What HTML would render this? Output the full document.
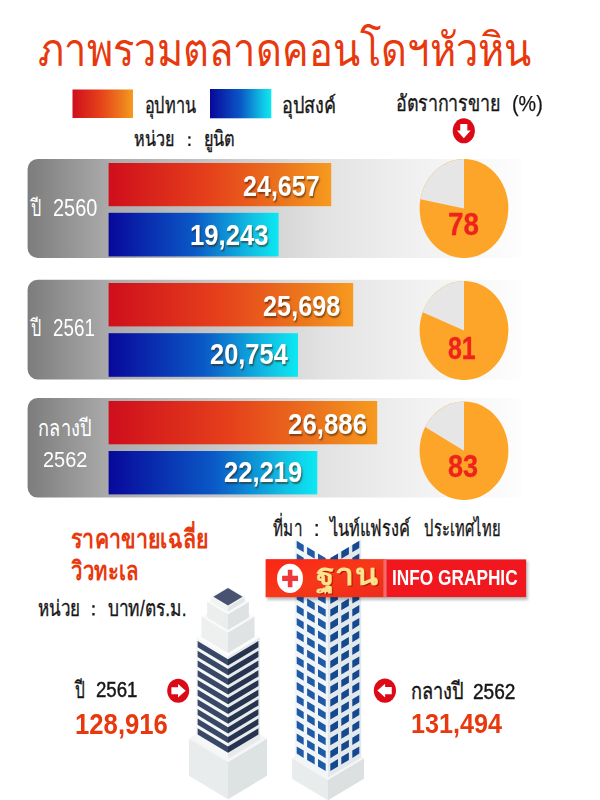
<!DOCTYPE html>
<html lang="th"><head><meta charset="utf-8"><title>ภาพรวมตลาดคอนโดฯหัวหิน</title>
<style>
html,body{margin:0;padding:0;background:#fff}
#p{position:relative;width:600px;height:800px;overflow:hidden;background:#fff;font-family:"Liberation Sans",sans-serif}
#p svg{position:absolute;left:0;top:0}
#p svg text{font-family:"Liberation Sans",sans-serif}
.t{position:absolute;line-height:1;white-space:nowrap;transform-origin:0 0}
</style></head><body><div id="p">
<svg width="600" height="800" viewBox="0 0 600 800">
<filter id="blur" x="-10%" y="-30%" width="120%" height="160%"><feGaussianBlur stdDeviation="1.6"/></filter>
<defs>
<linearGradient id="gr" x1="0" x2="1" y1="0" y2="0"><stop offset="0" stop-color="#cf0e1c"/><stop offset="0.45" stop-color="#e5401b"/><stop offset="0.8" stop-color="#ec781d"/><stop offset="1" stop-color="#f79a1f"/></linearGradient>
<linearGradient id="gb" x1="0" x2="1" y1="0" y2="0"><stop offset="0" stop-color="#08089a"/><stop offset="0.5" stop-color="#0a58c6"/><stop offset="0.85" stop-color="#10c2e4"/><stop offset="1" stop-color="#0ce8f2"/></linearGradient>
<linearGradient id="gp" gradientUnits="userSpaceOnUse" x1="27" x2="521" y1="0" y2="0"><stop offset="0" stop-color="#7c7c7c"/><stop offset="0.165" stop-color="#aaaaaa"/><stop offset="0.61" stop-color="#e3e3e3"/><stop offset="0.75" stop-color="#eeeeee"/><stop offset="0.86" stop-color="#f5f5f5"/><stop offset="1" stop-color="#fdfdfd"/></linearGradient>
<linearGradient id="gban" x1="0" x2="1" y1="0" y2="1"><stop offset="0" stop-color="#fb2416"/><stop offset="0.5" stop-color="#f73818"/><stop offset="1" stop-color="#ee2a1a"/></linearGradient>
</defs>
<text x="38.3" y="65.5" font-size="46" fill="#e8380d" textLength="493" lengthAdjust="spacingAndGlyphs">ภาพรวมตลาดคอนโดฯหัวหิน</text>
<rect x="72.5" y="89.5" width="60.5" height="28.5" fill="url(#gr)"/>
<rect x="210" y="89" width="61.3" height="29.3" fill="url(#gb)"/>
<text x="144.7" y="112.8" font-size="22" fill="#151515" stroke="#151515" stroke-width="0.35" textLength="51" lengthAdjust="spacingAndGlyphs">อุปทาน</text>
<text x="282.2" y="112.8" font-size="22" fill="#151515" stroke="#151515" stroke-width="0.35" textLength="54" lengthAdjust="spacingAndGlyphs">อุปสงค์</text>
<text x="396.2" y="110.7" font-size="22" fill="#151515" stroke="#151515" stroke-width="0.35" textLength="104" lengthAdjust="spacingAndGlyphs">อัตราการขาย</text>
<text x="134.2" y="146" font-size="21" fill="#151515" stroke="#151515" stroke-width="0.35" textLength="40" lengthAdjust="spacingAndGlyphs">หน่วย</text>
<text x="204.2" y="146" font-size="21" fill="#151515" stroke="#151515" stroke-width="0.35" textLength="31" lengthAdjust="spacingAndGlyphs">ยูนิต</text>
<rect x="188.3" y="136.3" width="2.2" height="2.4" fill="#151515"/><rect x="188.3" y="143.6" width="2.2" height="2.4" fill="#151515"/>
<g transform="translate(463.8 130.8)"><ellipse rx="11.1" ry="12.5" fill="#dc0a16"/><g transform="rotate(90) scale(1.009)"><path d="M-6.8 -3.5H-0.2V-6.8L7.5 0L-0.2 6.8V3.5H-6.8Z" fill="#fff"/></g></g>
<path d="M37.6 159.0H521V258.0H37.6A10 10 0 0 1 27.6 248.0V169.0A10 10 0 0 1 37.6 159.0Z" fill="url(#gp)"/>
<rect x="108.6" y="163.0" width="222.6" height="43.2" fill="url(#gr)"/>
<rect x="108.6" y="212.8" width="170.0" height="43.6" fill="url(#gb)"/>
<path d="M37.6 279.8H521V379.4H37.6A10 10 0 0 1 27.6 369.4V289.8A10 10 0 0 1 37.6 279.8Z" fill="url(#gp)"/>
<rect x="108.6" y="283.0" width="244.6" height="43.4" fill="url(#gr)"/>
<rect x="108.6" y="333.2" width="189.4" height="43.6" fill="url(#gb)"/>
<path d="M37.6 398.0H521V497.6H37.6A10 10 0 0 1 27.6 487.6V408.0A10 10 0 0 1 37.6 398.0Z" fill="url(#gp)"/>
<rect x="108.6" y="401.0" width="268.6" height="43.3" fill="url(#gr)"/>
<rect x="108.6" y="451.0" width="208.7" height="43.4" fill="url(#gb)"/>
<ellipse cx="464.0" cy="208.5" rx="44.4" ry="49.5" fill="#fda529"/><path d="M464.0 208.5L464.0 159.0A44.4 49.5 0 0 0 420.4 199.2Z" fill="#e6e6e6"/>
<ellipse cx="464.0" cy="330.5" rx="44.4" ry="49.5" fill="#fda529"/><path d="M464.0 330.5L464.0 281.0A44.4 49.5 0 0 0 422.7 312.3Z" fill="#e6e6e6"/>
<ellipse cx="464.0" cy="450.8" rx="44.4" ry="49.2" fill="#fda529"/><path d="M464.0 450.8L464.0 401.6A44.4 49.2 0 0 0 425.1 427.1Z" fill="#e6e6e6"/>
<text x="31" y="216" font-size="23" fill="#fff" textLength="10.5" lengthAdjust="spacingAndGlyphs">ปี</text>
<text x="31" y="336" font-size="23" fill="#fff" textLength="10.5" lengthAdjust="spacingAndGlyphs">ปี</text>
<text x="38.4" y="436.4" font-size="23" fill="#fff" textLength="53" lengthAdjust="spacingAndGlyphs">กลางปี</text>
<text x="71" y="548" font-size="26" font-weight="bold" fill="#e8380d" textLength="137" lengthAdjust="spacingAndGlyphs">ราคาขายเฉลี่ย</text>
<text x="71" y="580.3" font-size="26" font-weight="bold" fill="#e8380d" textLength="67" lengthAdjust="spacingAndGlyphs">วิวทะเล</text>
<text x="37.8" y="615.5" font-size="22" fill="#151515" stroke="#151515" stroke-width="0.35" textLength="42.5" lengthAdjust="spacingAndGlyphs">หน่วย</text>
<text x="107.7" y="615.5" font-size="22" fill="#151515" stroke="#151515" stroke-width="0.35" textLength="79" lengthAdjust="spacingAndGlyphs">บาท/ตร.ม.</text>
<rect x="92.3" y="605.2" width="2.3" height="2.5" fill="#151515"/><rect x="92.3" y="613" width="2.3" height="2.5" fill="#151515"/>
<text x="272.8" y="536" font-size="22" fill="#151515" stroke="#151515" stroke-width="0.35" textLength="29" lengthAdjust="spacingAndGlyphs">ที่มา</text>
<rect x="315.5" y="524" width="2.3" height="2.5" fill="#151515"/><rect x="315.5" y="533.5" width="2.3" height="2.5" fill="#151515"/>
<text x="329.6" y="536" font-size="22" fill="#151515" stroke="#151515" stroke-width="0.35" textLength="81" lengthAdjust="spacingAndGlyphs">ไนท์แฟรงค์</text>
<text x="424.2" y="536" font-size="22" fill="#151515" stroke="#151515" stroke-width="0.35" textLength="76" lengthAdjust="spacingAndGlyphs">ประเทศไทย</text>
<polygon points="189.0,738.6 228.0,762.0 228.0,799.2 189.0,775.8" fill="#e8ecec"/><polygon points="267.0,738.6 228.0,762.0 228.0,799.2 267.0,775.8" fill="#dde2e2"/><polygon points="189.0,738.6 228.0,715.2 267.0,738.6 228.0,762.0" fill="#f4f6f6"/><polygon points="196.0,637.0 228.0,656.2 228.0,758.7 196.0,739.5" fill="#f6f8f8"/><polygon points="260.0,637.0 228.0,656.2 228.0,758.7 260.0,739.5" fill="#e6eaec"/><polygon points="196.0,637.0 228.0,617.8 260.0,637.0 228.0,656.2" fill="#fbfcfc"/><polygon points="197.6,641.1 228.0,659.3 228.0,665.5 197.6,647.3" fill="#3a4868"/><polygon points="258.4,641.1 228.0,659.3 228.0,665.5 258.4,647.3" fill="#27344f"/><polygon points="197.6,650.8 228.0,669.0 228.0,675.2 197.6,657.0" fill="#3a4868"/><polygon points="258.4,650.8 228.0,669.0 228.0,675.2 258.4,657.0" fill="#27344f"/><polygon points="197.6,660.5 228.0,678.7 228.0,684.9 197.6,666.7" fill="#3a4868"/><polygon points="258.4,660.5 228.0,678.7 228.0,684.9 258.4,666.7" fill="#27344f"/><polygon points="197.6,670.2 228.0,688.4 228.0,694.6 197.6,676.4" fill="#3a4868"/><polygon points="258.4,670.2 228.0,688.4 228.0,694.6 258.4,676.4" fill="#27344f"/><polygon points="197.6,679.9 228.0,698.1 228.0,704.3 197.6,686.1" fill="#3a4868"/><polygon points="258.4,679.9 228.0,698.1 228.0,704.3 258.4,686.1" fill="#27344f"/><polygon points="197.6,689.6 228.0,707.8 228.0,714.0 197.6,695.8" fill="#3a4868"/><polygon points="258.4,689.6 228.0,707.8 228.0,714.0 258.4,695.8" fill="#27344f"/><polygon points="197.6,699.2 228.0,717.5 228.0,723.7 197.6,705.4" fill="#3a4868"/><polygon points="258.4,699.2 228.0,717.5 228.0,723.7 258.4,705.4" fill="#27344f"/><polygon points="197.6,708.9 228.0,727.2 228.0,733.4 197.6,715.1" fill="#3a4868"/><polygon points="258.4,708.9 228.0,727.2 228.0,733.4 258.4,715.1" fill="#27344f"/><polygon points="197.6,718.6 228.0,736.9 228.0,743.1 197.6,724.8" fill="#3a4868"/><polygon points="258.4,718.6 228.0,736.9 228.0,743.1 258.4,724.8" fill="#27344f"/><polygon points="197.6,728.3 228.0,746.6 228.0,752.8 197.6,734.5" fill="#3a4868"/><polygon points="258.4,728.3 228.0,746.6 228.0,752.8 258.4,734.5" fill="#27344f"/><polygon points="201.5,616.5 228.0,632.4 228.0,652.9 201.5,637.0" fill="#eef0f0"/><polygon points="254.5,616.5 228.0,632.4 228.0,652.9 254.5,637.0" fill="#e0e3e3"/><polygon points="201.5,616.5 228.0,600.6 254.5,616.5 228.0,632.4" fill="#f8f9f9"/><polygon points="207.2,601.7 228.0,614.2 228.0,630.0 207.2,617.5" fill="#eceeee"/><polygon points="248.8,601.7 228.0,614.2 228.0,630.0 248.8,617.5" fill="#dfe2e2"/><polygon points="207.2,601.7 228.0,589.2 248.8,601.7 228.0,614.2" fill="#f8f9f9"/><polygon points="211.4,596.7 228.0,606.7 228.0,611.7 211.4,601.7" fill="#f2f4f4"/><polygon points="244.6,596.7 228.0,606.7 228.0,611.7 244.6,601.7" fill="#e3e6e6"/><polygon points="211.4,596.7 228.0,586.7 244.6,596.7 228.0,606.7" fill="#f4f6f6"/><polygon points="213.4,596.7 228.0,587.9 242.6,596.7 228.0,605.5" fill="#4a5272"/>
<polygon points="292.0,758.2 328.0,779.8 328.0,800.3 292.0,778.7" fill="#e9ecec"/><polygon points="364.0,758.2 328.0,779.8 328.0,800.3 364.0,778.7" fill="#dde0e0"/><polygon points="292.0,758.2 328.0,736.6 364.0,758.2 328.0,779.8" fill="#f4f6f6"/><polygon points="294.8,539.5 328.0,559.4 328.0,777.4 294.8,757.5" fill="#f1f5f7"/><polygon points="361.2,539.5 328.0,559.4 328.0,777.4 361.2,757.5" fill="#e2e9ed"/><polygon points="296.7,540.8 303.7,545.0 303.7,552.2 296.7,548.0" fill="#1f5aa6"/><polygon points="359.3,540.8 352.3,545.0 352.3,552.2 359.3,548.0" fill="#15488c"/><polygon points="307.1,547.0 314.7,551.5 314.7,558.8 307.1,554.3" fill="#1f5aa6"/><polygon points="348.9,547.0 341.3,551.5 341.3,558.8 348.9,554.3" fill="#15488c"/><polygon points="318.0,553.5 325.7,558.1 325.7,565.4 318.0,560.8" fill="#1f5aa6"/><polygon points="338.0,553.5 330.3,558.1 330.3,565.4 338.0,560.8" fill="#15488c"/><polygon points="296.7,553.6 303.7,557.8 303.7,565.1 296.7,560.9" fill="#1f5aa6"/><polygon points="359.3,553.6 352.3,557.8 352.3,565.1 359.3,560.9" fill="#15488c"/><polygon points="307.1,559.8 314.7,564.4 314.7,571.7 307.1,567.1" fill="#1f5aa6"/><polygon points="348.9,559.8 341.3,564.4 341.3,571.7 348.9,567.1" fill="#15488c"/><polygon points="318.0,566.4 325.7,571.0 325.7,578.3 318.0,573.7" fill="#1f5aa6"/><polygon points="338.0,566.4 330.3,571.0 330.3,578.3 338.0,573.7" fill="#15488c"/><polygon points="296.7,566.5 303.7,570.7 303.7,578.0 296.7,573.8" fill="#1f5aa6"/><polygon points="359.3,566.5 352.3,570.7 352.3,578.0 359.3,573.8" fill="#15488c"/><polygon points="307.1,572.7 314.7,577.2 314.7,584.5 307.1,580.0" fill="#1f5aa6"/><polygon points="348.9,572.7 341.3,577.2 341.3,584.5 348.9,580.0" fill="#15488c"/><polygon points="318.0,579.2 325.7,583.9 325.7,591.1 318.0,586.5" fill="#1f5aa6"/><polygon points="338.0,579.2 330.3,583.9 330.3,591.1 338.0,586.5" fill="#15488c"/><polygon points="296.7,579.3 303.7,583.5 303.7,590.8 296.7,586.6" fill="#1f5aa6"/><polygon points="359.3,579.3 352.3,583.5 352.3,590.8 359.3,586.6" fill="#15488c"/><polygon points="307.1,585.5 314.7,590.1 314.7,597.4 307.1,592.8" fill="#1f5aa6"/><polygon points="348.9,585.5 341.3,590.1 341.3,597.4 348.9,592.8" fill="#15488c"/><polygon points="318.0,592.1 325.7,596.7 325.7,604.0 318.0,599.4" fill="#1f5aa6"/><polygon points="338.0,592.1 330.3,596.7 330.3,604.0 338.0,599.4" fill="#15488c"/><polygon points="296.7,592.1 303.7,596.4 303.7,603.6 296.7,599.4" fill="#1f5aa6"/><polygon points="359.3,592.1 352.3,596.4 352.3,603.6 359.3,599.4" fill="#15488c"/><polygon points="307.1,598.4 314.7,602.9 314.7,610.2 307.1,605.7" fill="#1f5aa6"/><polygon points="348.9,598.4 341.3,602.9 341.3,610.2 348.9,605.7" fill="#15488c"/><polygon points="318.0,604.9 325.7,609.5 325.7,616.8 318.0,612.2" fill="#1f5aa6"/><polygon points="338.0,604.9 330.3,609.5 330.3,616.8 338.0,612.2" fill="#15488c"/><polygon points="296.7,605.0 303.7,609.2 303.7,616.5 296.7,612.3" fill="#1f5aa6"/><polygon points="359.3,605.0 352.3,609.2 352.3,616.5 359.3,612.3" fill="#15488c"/><polygon points="307.1,611.2 314.7,615.8 314.7,623.1 307.1,618.5" fill="#1f5aa6"/><polygon points="348.9,611.2 341.3,615.8 341.3,623.1 348.9,618.5" fill="#15488c"/><polygon points="318.0,617.8 325.7,622.4 325.7,629.7 318.0,625.1" fill="#1f5aa6"/><polygon points="338.0,617.8 330.3,622.4 330.3,629.7 338.0,625.1" fill="#15488c"/><polygon points="296.7,617.9 303.7,622.1 303.7,629.4 296.7,625.1" fill="#1f5aa6"/><polygon points="359.3,617.9 352.3,622.1 352.3,629.4 359.3,625.1" fill="#15488c"/><polygon points="307.1,624.1 314.7,628.6 314.7,635.9 307.1,631.4" fill="#1f5aa6"/><polygon points="348.9,624.1 341.3,628.6 341.3,635.9 348.9,631.4" fill="#15488c"/><polygon points="318.0,630.6 325.7,635.2 325.7,642.5 318.0,637.9" fill="#1f5aa6"/><polygon points="338.0,630.6 330.3,635.2 330.3,642.5 338.0,637.9" fill="#15488c"/><polygon points="296.7,630.7 303.7,634.9 303.7,642.2 296.7,638.0" fill="#1f5aa6"/><polygon points="359.3,630.7 352.3,634.9 352.3,642.2 359.3,638.0" fill="#15488c"/><polygon points="307.1,636.9 314.7,641.5 314.7,648.8 307.1,644.2" fill="#1f5aa6"/><polygon points="348.9,636.9 341.3,641.5 341.3,648.8 348.9,644.2" fill="#15488c"/><polygon points="318.0,643.5 325.7,648.1 325.7,655.4 318.0,650.8" fill="#1f5aa6"/><polygon points="338.0,643.5 330.3,648.1 330.3,655.4 338.0,650.8" fill="#15488c"/><polygon points="296.7,643.5 303.7,647.8 303.7,655.0 296.7,650.8" fill="#1f5aa6"/><polygon points="359.3,643.5 352.3,647.8 352.3,655.0 359.3,650.8" fill="#15488c"/><polygon points="307.1,649.8 314.7,654.3 314.7,661.6 307.1,657.1" fill="#1f5aa6"/><polygon points="348.9,649.8 341.3,654.3 341.3,661.6 348.9,657.1" fill="#15488c"/><polygon points="318.0,656.3 325.7,660.9 325.7,668.2 318.0,663.6" fill="#1f5aa6"/><polygon points="338.0,656.3 330.3,660.9 330.3,668.2 338.0,663.6" fill="#15488c"/><polygon points="296.7,656.4 303.7,660.6 303.7,667.9 296.7,663.7" fill="#1f5aa6"/><polygon points="359.3,656.4 352.3,660.6 352.3,667.9 359.3,663.7" fill="#15488c"/><polygon points="307.1,662.6 314.7,667.2 314.7,674.5 307.1,669.9" fill="#1f5aa6"/><polygon points="348.9,662.6 341.3,667.2 341.3,674.5 348.9,669.9" fill="#15488c"/><polygon points="318.0,669.2 325.7,673.8 325.7,681.1 318.0,676.5" fill="#1f5aa6"/><polygon points="338.0,669.2 330.3,673.8 330.3,681.1 338.0,676.5" fill="#15488c"/><polygon points="296.7,669.2 303.7,673.5 303.7,680.8 296.7,676.5" fill="#1f5aa6"/><polygon points="359.3,669.2 352.3,673.5 352.3,680.8 359.3,676.5" fill="#15488c"/><polygon points="307.1,675.5 314.7,680.0 314.7,687.3 307.1,682.8" fill="#1f5aa6"/><polygon points="348.9,675.5 341.3,680.0 341.3,687.3 348.9,682.8" fill="#15488c"/><polygon points="318.0,682.0 325.7,686.6 325.7,693.9 318.0,689.3" fill="#1f5aa6"/><polygon points="338.0,682.0 330.3,686.6 330.3,693.9 338.0,689.3" fill="#15488c"/><polygon points="296.7,682.1 303.7,686.3 303.7,693.6 296.7,689.4" fill="#1f5aa6"/><polygon points="359.3,682.1 352.3,686.3 352.3,693.6 359.3,689.4" fill="#15488c"/><polygon points="307.1,688.3 314.7,692.9 314.7,700.2 307.1,695.6" fill="#1f5aa6"/><polygon points="348.9,688.3 341.3,692.9 341.3,700.2 348.9,695.6" fill="#15488c"/><polygon points="318.0,694.9 325.7,699.5 325.7,706.8 318.0,702.2" fill="#1f5aa6"/><polygon points="338.0,694.9 330.3,699.5 330.3,706.8 338.0,702.2" fill="#15488c"/><polygon points="296.7,695.0 303.7,699.2 303.7,706.5 296.7,702.2" fill="#1f5aa6"/><polygon points="359.3,695.0 352.3,699.2 352.3,706.5 359.3,702.2" fill="#15488c"/><polygon points="307.1,701.2 314.7,705.8 314.7,713.0 307.1,708.5" fill="#1f5aa6"/><polygon points="348.9,701.2 341.3,705.8 341.3,713.0 348.9,708.5" fill="#15488c"/><polygon points="318.0,707.7 325.7,712.4 325.7,719.6 318.0,715.0" fill="#1f5aa6"/><polygon points="338.0,707.7 330.3,712.4 330.3,719.6 338.0,715.0" fill="#15488c"/><polygon points="296.7,707.8 303.7,712.0 303.7,719.3 296.7,715.1" fill="#1f5aa6"/><polygon points="359.3,707.8 352.3,712.0 352.3,719.3 359.3,715.1" fill="#15488c"/><polygon points="307.1,714.0 314.7,718.6 314.7,725.9 307.1,721.3" fill="#1f5aa6"/><polygon points="348.9,714.0 341.3,718.6 341.3,725.9 348.9,721.3" fill="#15488c"/><polygon points="318.0,720.6 325.7,725.2 325.7,732.5 318.0,727.9" fill="#1f5aa6"/><polygon points="338.0,720.6 330.3,725.2 330.3,732.5 338.0,727.9" fill="#15488c"/><polygon points="296.7,720.6 303.7,724.9 303.7,732.1 296.7,727.9" fill="#1f5aa6"/><polygon points="359.3,720.6 352.3,724.9 352.3,732.1 359.3,727.9" fill="#15488c"/><polygon points="307.1,726.9 314.7,731.4 314.7,738.7 307.1,734.2" fill="#1f5aa6"/><polygon points="348.9,726.9 341.3,731.4 341.3,738.7 348.9,734.2" fill="#15488c"/><polygon points="318.0,733.4 325.7,738.0 325.7,745.3 318.0,740.7" fill="#1f5aa6"/><polygon points="338.0,733.4 330.3,738.0 330.3,745.3 338.0,740.7" fill="#15488c"/><polygon points="296.7,733.5 303.7,737.7 303.7,745.0 296.7,740.8" fill="#1f5aa6"/><polygon points="359.3,733.5 352.3,737.7 352.3,745.0 359.3,740.8" fill="#15488c"/><polygon points="307.1,739.7 314.7,744.3 314.7,751.6 307.1,747.0" fill="#1f5aa6"/><polygon points="348.9,739.7 341.3,744.3 341.3,751.6 348.9,747.0" fill="#15488c"/><polygon points="318.0,746.3 325.7,750.9 325.7,758.2 318.0,753.6" fill="#1f5aa6"/><polygon points="338.0,746.3 330.3,750.9 330.3,758.2 338.0,753.6" fill="#15488c"/><polygon points="296.7,746.4 303.7,750.6 303.7,757.9 296.7,753.6" fill="#1f5aa6"/><polygon points="359.3,746.4 352.3,750.6 352.3,757.9 359.3,753.6" fill="#15488c"/><polygon points="307.1,752.6 314.7,757.1 314.7,764.4 307.1,759.9" fill="#1f5aa6"/><polygon points="348.9,752.6 341.3,757.1 341.3,764.4 348.9,759.9" fill="#15488c"/><polygon points="318.0,759.1 325.7,763.8 325.7,771.0 318.0,766.4" fill="#1f5aa6"/><polygon points="338.0,759.1 330.3,763.8 330.3,771.0 338.0,766.4" fill="#15488c"/>
<rect x="267" y="561" width="261" height="39" fill="#000" opacity="0.26" filter="url(#blur)"/>
<rect x="265.8" y="559.4" width="260.3" height="37.7" fill="#f0181e"/>
<rect x="265.8" y="559.4" width="119" height="37.7" fill="url(#gban)"/>
<rect x="383.4" y="559.4" width="3.2" height="37.7" fill="#f46a6a"/>
<ellipse cx="290" cy="578.4" rx="13" ry="14.6" fill="#fff"/>
<path d="M287.8 569.7h4.6v6h5.7v5.3h-5.7v6.3h-4.6v-6.3h-5.7v-5.3h5.7z" fill="#ee383a"/>
<text x="317.2" y="586" font-size="30" font-weight="bold" fill="#b01014" textLength="62" lengthAdjust="spacingAndGlyphs">ฐาน</text>
<text x="316.3" y="585" font-size="30" font-weight="bold" fill="#fde38c" textLength="62" lengthAdjust="spacingAndGlyphs">ฐาน</text>
<g transform="translate(178.2 690.8)"><ellipse rx="11.0" ry="12.0" fill="#dc0a16"/><g transform="rotate(0) scale(1.000)"><path d="M-6.8 -3.5H-0.2V-6.8L7.5 0L-0.2 6.8V3.5H-6.8Z" fill="#fff"/></g></g>
<g transform="translate(384.9 690.6)"><ellipse rx="11.1" ry="12.1" fill="#dc0a16"/><g transform="rotate(180) scale(1.009)"><path d="M-6.8 -3.5H-0.2V-6.8L7.5 0L-0.2 6.8V3.5H-6.8Z" fill="#fff"/></g></g>
<text x="75.2" y="697.5" font-size="23" fill="#151515" stroke="#151515" stroke-width="0.4" textLength="10" lengthAdjust="spacingAndGlyphs">ปี</text>
<text x="410.8" y="698.7" font-size="23" fill="#151515" stroke="#151515" stroke-width="0.4" textLength="53" lengthAdjust="spacingAndGlyphs">กลางปี</text>
</svg>
<div class="t" style="left:243.13px;top:170.84px;font-size:29.36px;font-weight:bold;color:#fff;transform:scaleX(0.8538);text-shadow:1.2px 1.6px 1.5px rgba(60,30,0,.55);">24,657</div>
<div class="t" style="left:190.38px;top:219.77px;font-size:29.80px;font-weight:bold;color:#fff;transform:scaleX(0.8619);text-shadow:1.2px 1.6px 1.5px rgba(60,30,0,.55);">19,243</div>
<div class="t" style="left:262.62px;top:290.84px;font-size:29.36px;font-weight:bold;color:#fff;transform:scaleX(0.8614);text-shadow:1.2px 1.6px 1.5px rgba(60,30,0,.55);">25,698</div>
<div class="t" style="left:209.82px;top:339.79px;font-size:29.07px;font-weight:bold;color:#fff;transform:scaleX(0.8752);text-shadow:1.2px 1.6px 1.5px rgba(60,30,0,.55);">20,754</div>
<div class="t" style="left:287.90px;top:408.87px;font-size:29.80px;font-weight:bold;color:#fff;transform:scaleX(0.8683);text-shadow:1.2px 1.6px 1.5px rgba(60,30,0,.55);">26,886</div>
<div class="t" style="left:223.91px;top:456.97px;font-size:29.80px;font-weight:bold;color:#fff;transform:scaleX(0.8596);text-shadow:1.2px 1.6px 1.5px rgba(60,30,0,.55);">22,219</div>
<div class="t" style="left:448.21px;top:208.76px;font-size:31.10px;font-weight:bold;color:#ee241c;transform:scaleX(0.8915);-webkit-text-stroke:0.35px #ee241c;">78</div>
<div class="t" style="left:448.01px;top:332.03px;font-size:31.98px;font-weight:bold;color:#ee241c;transform:scaleX(0.7783);-webkit-text-stroke:0.35px #ee241c;">81</div>
<div class="t" style="left:448.14px;top:449.78px;font-size:32.27px;font-weight:bold;color:#ee241c;transform:scaleX(0.8368);-webkit-text-stroke:0.35px #ee241c;">83</div>
<div class="t" style="left:53.00px;top:196.91px;font-size:23.26px;color:#fff;transform:scaleX(0.8579);">2560</div>
<div class="t" style="left:53.05px;top:316.91px;font-size:23.26px;color:#fff;transform:scaleX(0.8092);">2561</div>
<div class="t" style="left:42.60px;top:448.26px;font-size:22.97px;color:#fff;transform:scaleX(0.8692);">2562</div>
<div class="t" style="left:512.07px;top:93.02px;font-size:22.53px;color:#151515;transform:scaleX(0.8777);-webkit-text-stroke:0.25px #151515;">(%)</div>
<div class="t" style="left:392.15px;top:566.66px;font-size:21.66px;font-weight:bold;color:#fff;transform:scaleX(0.7970);">INFO GRAPHIC</div>
<div class="t" style="left:95.76px;top:679.37px;font-size:22.24px;color:#151515;transform:scaleX(0.8378);-webkit-text-stroke:0.45px #151515;">2561</div>
<div class="t" style="left:74.68px;top:709.71px;font-size:28.92px;font-weight:bold;color:#e8380d;transform:scaleX(0.8890);">128,916</div>
<div class="t" style="left:473.04px;top:680.79px;font-size:22.09px;color:#151515;transform:scaleX(0.8652);-webkit-text-stroke:0.45px #151515;">2562</div>
<div class="t" style="left:411.01px;top:710.25px;font-size:28.05px;font-weight:bold;color:#e8380d;transform:scaleX(0.8986);">131,494</div>
</div></body></html>
